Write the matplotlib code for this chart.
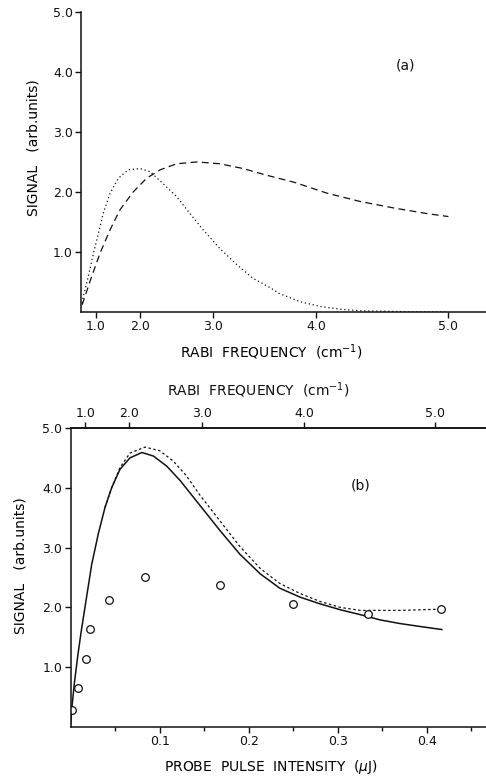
import numpy as np
import matplotlib
matplotlib.use('Agg')
import matplotlib.pyplot as plt
from matplotlib.ticker import FixedLocator, FormatStrFormatter

# panel (a): calculated signal against Rabi frequency (cm^-1)
rabi_dot = [0.25, 0.37, 0.69, 0.91, 1.08, 1.22, 1.40, 1.59, 1.79, 2.00, 2.16, 2.36,
            2.55, 2.72, 2.88, 3.07, 3.26, 3.42, 3.59, 3.67, 3.86, 4.04, 4.20, 4.36,
            4.70, 5.00]
signal_dot = [0.15, 0.26, 0.59, 0.98, 1.31, 1.64, 1.98, 2.23, 2.37, 2.39, 2.34, 2.14,
              1.92, 1.64, 1.37, 1.06, 0.78, 0.56, 0.40, 0.31, 0.17, 0.09, 0.045, 0.02,
              0.005, 0.0]
rabi_dash = [0.25, 0.50, 0.84, 1.13, 1.40, 1.62, 1.88, 2.11, 2.32, 2.55, 2.81, 3.07,
             3.32, 3.55, 3.81, 4.09, 4.36, 4.62, 4.85, 5.00]
signal_dash = [0.12, 0.26, 0.59, 0.98, 1.37, 1.70, 2.00, 2.23, 2.37, 2.47, 2.50, 2.47,
               2.39, 2.28, 2.16, 1.98, 1.84, 1.73, 1.64, 1.59]

# panel (b): signal against probe pulse intensity (uJ)
int_solid = [0.0, 0.001, 0.004, 0.008, 0.012, 0.016, 0.0236, 0.031, 0.0385, 0.046,
             0.0554, 0.0666, 0.080, 0.093, 0.108, 0.123, 0.138, 0.153, 0.168, 0.190,
             0.213, 0.235, 0.258, 0.280, 0.303, 0.325, 0.348, 0.370, 0.393, 0.417]
sig_solid = [0.05, 0.28, 0.72, 1.20, 1.62, 2.00, 2.72, 3.23, 3.67, 4.00,
             4.31, 4.50, 4.59, 4.53, 4.36, 4.12, 3.84, 3.56, 3.28, 2.89,
             2.56, 2.32, 2.17, 2.06, 1.96, 1.88, 1.79, 1.73, 1.68, 1.63]
int_dot = [0.0385, 0.046, 0.0554, 0.0666, 0.0835, 0.100, 0.115, 0.130, 0.145, 0.168,
           0.190, 0.213, 0.235, 0.258, 0.280, 0.303, 0.325, 0.370, 0.416]
sig_dot = [3.67, 4.00, 4.34, 4.58, 4.68, 4.62, 4.45, 4.20, 3.88, 3.44,
           3.02, 2.65, 2.40, 2.23, 2.10, 2.00, 1.95, 1.95, 1.97]
int_meas = [0.001, 0.0085, 0.017, 0.022, 0.043, 0.084, 0.168, 0.250, 0.334, 0.416]
sig_meas = [0.28, 0.65, 1.13, 1.64, 2.13, 2.51, 2.38, 2.05, 1.89, 1.97]

rabi_ticks = [1.0, 2.0, 3.0, 4.0, 5.0]
signal_ticks = [1.0, 2.0, 3.0, 4.0, 5.0]
int_ticks = [0.1, 0.2, 0.3, 0.4]
int_minor = [0.05, 0.15, 0.25, 0.35, 0.45]

RABI2_PER_UJ = 61.0  # Omega^2 (cm^-2) per uJ of probe energy

INK = '#111111'
plt.rcParams['font.family'] = ['DejaVu Sans']
plt.rcParams['axes.edgecolor'] = INK
plt.rcParams['xtick.color'] = INK
plt.rcParams['ytick.color'] = INK


def style_axis(ax):
    ax.tick_params(direction='out', length=4, width=1.0, labelsize=9, pad=2)
    for s in ax.spines.values():
        s.set_linewidth(1.1)
    ax.spines['right'].set_visible(False)


fig = plt.figure(figsize=(4.86, 7.76), dpi=100)

# ---- panel (a)
axa = fig.add_axes([0.1673, 0.598, 0.8327, 0.3866])
axa.set_xscale('function', functions=(lambda x: np.sign(x) * x**2,
                                      lambda x: np.sign(x) * np.sqrt(np.abs(x))))
axa.plot(rabi_dot, signal_dot, color=INK, lw=0.9, ls=(0, (1.0, 2.2)))
axa.plot(rabi_dash, signal_dash, color=INK, lw=0.9, ls=(0, (5.5, 3.5)))
axa.set_xlim(0, 5.25)
axa.set_ylim(0, 5.0)
axa.xaxis.set_major_locator(FixedLocator(rabi_ticks))
axa.xaxis.set_minor_locator(FixedLocator([]))
axa.xaxis.set_major_formatter(FormatStrFormatter('%.1f'))
axa.yaxis.set_major_locator(FixedLocator(signal_ticks))
axa.yaxis.set_major_formatter(FormatStrFormatter('%.1f'))
style_axis(axa)
axa.spines['top'].set_visible(False)
axa.set_xlabel('RABI  FREQUENCY  (cm$^{-1}$)', fontsize=10)
axa.xaxis.set_label_coords(0.469, -0.103)
axa.set_ylabel('SIGNAL   (arb.units)', fontsize=10)
axa.yaxis.set_label_coords(-0.102, 0.547)
axa.text(0.80, 0.823, '(a)', transform=axa.transAxes, fontsize=10,
         ha='center', va='center', color=INK)

# ---- panel (b)
axb = fig.add_axes([0.1455, 0.0631, 0.8545, 0.3854])
axb.plot(int_dot, sig_dot, color=INK, lw=0.9, ls=(0, (2.0, 2.0)))
axb.plot(int_solid, sig_solid, color=INK, lw=1.1)
axb.plot(int_meas, sig_meas, ls='none', marker='o', ms=5.5, mfc='white',
         mec=INK, mew=0.9)
axb.set_xlim(0, 0.4666)
axb.set_ylim(0, 5.0)
axb.xaxis.set_major_locator(FixedLocator(int_ticks))
axb.xaxis.set_minor_locator(FixedLocator(int_minor))
axb.xaxis.set_major_formatter(FormatStrFormatter('%.1f'))
axb.yaxis.set_major_locator(FixedLocator(signal_ticks))
axb.yaxis.set_major_formatter(FormatStrFormatter('%.1f'))
style_axis(axb)
axb.tick_params(axis='x', which='minor', direction='out', length=3, width=1.0)
axb.set_xlabel('PROBE  PULSE  INTENSITY  ($\\mu$J)', fontsize=10)
axb.xaxis.set_label_coords(0.482, -0.105)
axb.set_ylabel('SIGNAL   (arb.units)', fontsize=10)
axb.yaxis.set_label_coords(-0.103, 0.54)
axb.text(0.699, 0.809, '(b)', transform=axb.transAxes, fontsize=10,
         ha='center', va='center', color=INK)


def to_rabi(i):
    return np.sqrt(np.clip(i, 0, None) * RABI2_PER_UJ)


def to_energy(r):
    return np.asarray(r) ** 2 / RABI2_PER_UJ


top = axb.secondary_xaxis('top', functions=(to_rabi, to_energy))
top.xaxis.set_major_locator(FixedLocator(rabi_ticks))
top.xaxis.set_minor_locator(FixedLocator([]))
top.xaxis.set_major_formatter(FormatStrFormatter('%.1f'))
top.tick_params(direction='out', length=4, width=1.0, labelsize=9, pad=2)
top.spines['top'].set_linewidth(1.1)
# label for the top scale, placed as plain text above the tick labels
axb.text(0.453, 1.127, 'RABI  FREQUENCY  (cm$^{-1}$)', transform=axb.transAxes,
         fontsize=10, ha='center', va='center', color=INK)

fig.savefig('out.png', dpi=100)
